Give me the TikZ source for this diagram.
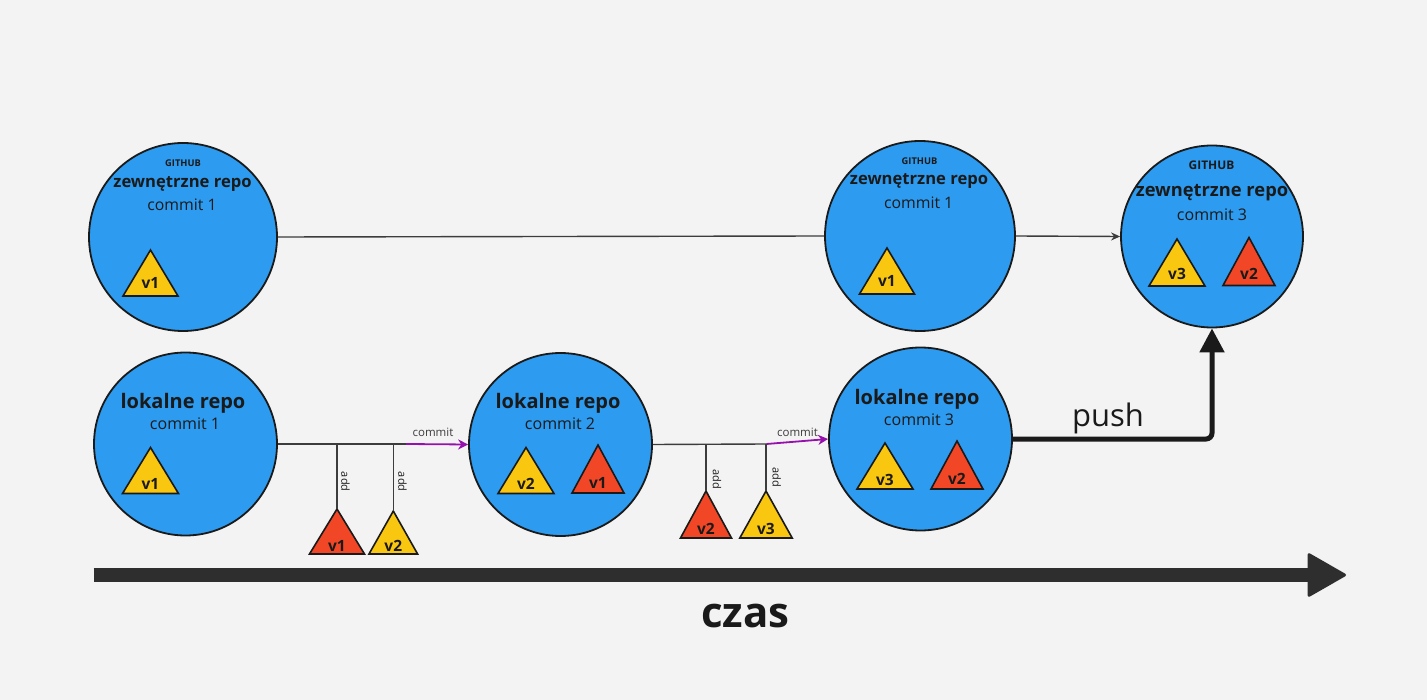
\documentclass[tikz,border=0pt]{standalone}
\usepackage{fontspec}
\setmainfont{Open Sans}
\usetikzlibrary{arrows.meta,calc}
\definecolor{bg}{HTML}{F3F3F3}
\definecolor{repoblue}{HTML}{2D9BF0}
\definecolor{tyellow}{HTML}{FAC710}
\definecolor{tred}{HTML}{F24726}
\definecolor{cpurple}{HTML}{9510AC}
\definecolor{dark}{HTML}{1A1A1A}
\definecolor{lgray}{HTML}{3C3C3C}
\definecolor{tgray}{HTML}{2E2E2E}
\newcommand\mytri[8]{%
  \coordinate (#1) at (#2,#3);
  \draw[tribox,fill=#6] (#1) -- ++(#4,#5) -- ++(-2*#4,0) -- cycle;
  \node[trilabel] (#1-l) at (#2,#8) {#7};
}
\begin{document}
\begin{tikzpicture}[x=1pt,y=-1pt,
  repo/.style={circle,draw=dark,line width=1.8pt,fill=repoblue,inner sep=0pt},
  txt/.style={inner sep=0pt,anchor=base,text=dark},
  tribox/.style={draw=dark,line width=1.6pt,line join=miter},
  trilabel/.style={inner sep=0pt,anchor=base,text=dark,font=\bfseries\fontsize{15.5}{18}\selectfont},
  gline/.style={draw=lgray,line width=1.4pt},
  cline/.style={draw=cpurple,line width=1.8pt,-{Stealth[length=10pt,width=10pt]}},
  small/.style={inner sep=0pt,text=lgray,font=\fontsize{11.5}{13}\selectfont},
  addlbl/.style={inner sep=0pt,text=dark,rotate=-90,font=\fontsize{11}{13}\selectfont},
  pusharrow/.style={draw=dark,line width=5pt,rounded corners=6pt,-{Triangle[length=24pt,width=24pt]}},
  timeline/.style={draw=tgray,line width=14pt,-{Triangle[length=40pt,width=45pt,round,line width=3pt]}}
]
\fill[bg] (0,0) rectangle (1427,700);
\useasboundingbox (0,0) rectangle (1427,700);

% circles
\node[repo,minimum size=188pt] (g1) at (183,237) {};
\node[repo,minimum size=190pt] (g2) at (920,236) {};
\node[repo,minimum size=182pt] (g3) at (1212,236.5) {};
\node[repo,minimum size=183pt] (l1) at (185.5,444) {};
\node[repo,minimum size=183pt] (l2) at (560.5,444.5) {};
\node[repo,minimum size=183pt] (l3) at (920.5,439) {};

% texts top row
\node[txt,font=\bfseries\fontsize{9.3}{11}\selectfont] (g1h) at (183,166.5) {GITHUB};
\node[txt,font=\bfseries\fontsize{16.6}{19}\selectfont] (g1t) at (182.5,188) {zewnętrzne repo};
\node[txt,font=\fontsize{15.8}{18}\selectfont] (g1c) at (182,211) {commit 1};

\node[txt,font=\bfseries\fontsize{9.3}{11}\selectfont] (g2h) at (919.5,165) {GITHUB};
\node[txt,font=\bfseries\fontsize{16.6}{19}\selectfont] (g2t) at (919,185) {zewnętrzne repo};
\node[txt,font=\fontsize{15.8}{18}\selectfont] (g2c) at (918.7,209) {commit 1};

\node[txt,font=\bfseries\fontsize{11.9}{14}\selectfont] (g3h) at (1211.5,170) {GITHUB};
\node[txt,font=\bfseries\fontsize{18.3}{21}\selectfont] (g3t) at (1212,197) {zewnętrzne repo};
\node[txt,font=\fontsize{16}{19}\selectfont] (g3c) at (1212,221) {commit 3};

% texts bottom row
\node[txt,font=\bfseries\fontsize{20}{23}\selectfont] (l1t) at (183,409) {lokalne repo};
\node[txt,font=\fontsize{16}{19}\selectfont] (l1c) at (185,429) {commit 1};
\node[txt,font=\bfseries\fontsize{20}{23}\selectfont] (l2t) at (558,409) {lokalne repo};
\node[txt,font=\fontsize{16}{19}\selectfont] (l2c) at (560,429) {commit 2};
\node[txt,font=\bfseries\fontsize{20}{23}\selectfont] (l3t) at (917,405) {lokalne repo};
\node[txt,font=\fontsize{16}{19}\selectfont] (l3c) at (919,425) {commit 3};

% triangles inside circles
\mytri{tg1}{150.5}{250}{27.5}{46}{tyellow}{v1}{289}
\mytri{tg2}{887}{248}{27.5}{46}{tyellow}{v1}{287}
\mytri{tg3a}{1177}{239}{28}{47}{tyellow}{v3}{280}
\mytri{tg3b}{1249}{237.5}{26}{48}{tred}{v2}{280}
\mytri{tl1}{150.5}{447.5}{28}{46}{tyellow}{v1}{489}
\mytri{tl2a}{526}{447.5}{28}{46}{tyellow}{v2}{489}
\mytri{tl2b}{598}{445}{26}{48}{tred}{v1}{488.3}
\mytri{tl3a}{885}{443}{28}{46}{tyellow}{v3}{485}
\mytri{tl3b}{957}{441}{26}{48}{tred}{v2}{484}

% add triangles
\mytri{ta1}{337}{509}{27.5}{45}{tred}{v1}{551.5}
\mytri{ta2}{393.3}{511}{24.3}{43}{tyellow}{v2}{551.5}
\mytri{ta3}{706}{491}{25.5}{47}{tred}{v2}{534}
\mytri{ta4}{766}{491}{26.2}{47}{tyellow}{v3}{534}

% top connectors
\draw[gline] (g1.east) -- (g2.west);
\draw[gline,-{Stealth[length=9pt,width=8pt]}] (g2.east) -- (g3.west);

% bottom connectors
\coordinate (c1) at (406,444);
\coordinate (c2) at (766.5,444);
\draw[gline] (l1.east) -- (c1);
\draw[cline] (c1) -- (l2.west);
\node[small,anchor=base] (cm1) at (433,436.7) {commit};
\draw[gline] (l2.east) -- (c2);
\draw[cline] (c2) -- (l3.west);
\node[small,anchor=base] (cm2) at (797.5,436.7) {commit};

\draw[gline] (ta1) -- (ta1 |- c1);
\draw[gline] (ta2) -- (ta2 |- c1);
\draw[gline] (ta3) -- (ta3 |- c2);
\draw[gline] (ta4) -- (ta4 |- c2);
\node[addlbl] (ad1) at (345.5,481.7) {add};
\node[addlbl] (ad2) at (402.5,481.7) {add};
\node[addlbl] (ad3) at (717,479) {add};
\node[addlbl] (ad4) at (776.7,477.5) {add};

% push
\draw[pusharrow] (l3.east) -| (g3.south);
\node[txt,font=\fontsize{31}{36}\selectfont] (push) at (1108,427) {push};

% time axis
\coordinate (tA) at (93.5,575);
\coordinate (tB) at (1346,575);
\draw[timeline] (tA) -- (tB);
\node[txt,font=\bfseries\fontsize{42}{48}\selectfont] (czas) at (745.5,627) {czas};
\end{tikzpicture}
\end{document}
